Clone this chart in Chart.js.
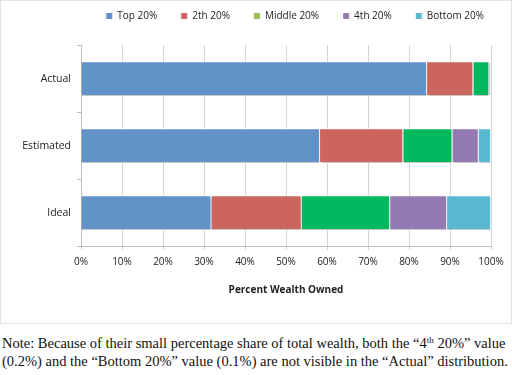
<!DOCTYPE html>
<html>
<head>
<meta charset="utf-8">
<script src="https://cdn.jsdelivr.net/npm/chart.js@4"></script>
<style>
	body { margin: 0; background: #fff; }
	#box { width: 510px; height: 322px; border: 1px solid #e2e2e2; position: relative; }
	#note { font-family: "Liberation Serif", "Times New Roman", serif; font-size: 14.5px; line-height: 18px; color: #111; margin: 10px 0 0 2px; white-space: nowrap; }
	#note sup { font-size: 9px; line-height: 0; vertical-align: 0; position: relative; top: -0.55em; }
</style>
</head>
<body>
<div id="box"><canvas id="bar" width="510" height="322"></canvas></div>
<div id="note">Note: Because of their small percentage share of total wealth, both the “4<sup>th</sup> 20%” value<br>(0.2%) and the “Bottom 20%” value (0.1%) are not visible in the “Actual” distribution.</div>
<script>
const categories = ["Actual", "Estimated", "Ideal"];
const seriesNames = ["Top 20%", "2th 20%", "Middle 20%", "4th 20%", "Bottom 20%"];
const top20 = [84.4, 58.3, 31.8];
const second20 = [11.3, 20.3, 22.0];
const middle20 = [3.9, 12.0, 21.6];
const fourth20 = [0.2, 6.4, 13.9];
const bottom20 = [0.1, 3.0, 10.7];
const xTicks = [0, 10, 20, 30, 40, 50, 60, 70, 80, 90, 100];

const colors = ["#6192c8", "#cc655d", "#00b85e", "#9479b3", "#5bb8d3"];
const legendColors = ["#6192c8", "#cc655d", "#9bbb59", "#9479b3", "#5bb8d3"];
const values = [top20, second20, middle20, fourth20, bottom20];

Chart.defaults.font.family = "'Open Sans', sans-serif";
Chart.defaults.color = "#222";

// soft grey shadow under the bars, like the office chart
const barShadow = {
	id: "barShadow",
	beforeDatasetsDraw(chart) {
		const c = chart.ctx;
		c.save();
		c.shadowColor = "rgba(0,0,0,0.22)";
		c.shadowOffsetY = 2;
		c.shadowBlur = 1;
	},
	afterDatasetsDraw(chart) {
		chart.ctx.restore();
	},
};

const ctx2 = document.getElementById("bar").getContext("2d");
const bar = new Chart(ctx2, {
	type: "bar",
	data: {
		labels: categories,
		datasets: seriesNames.map((name, i) => ({
			label: name,
			data: values[i],
			backgroundColor: colors[i],
			borderColor: "rgba(255,255,255,0.8)",
			borderWidth: 1,
			barPercentage: 0.52,
			categoryPercentage: 1,
		})),
	},
	options: {
		indexAxis: "y",
		responsive: false,
		animation: false,
		layout: { padding: { top: -14, right: 3, bottom: 23, left: 0 } },
		plugins: {
			tooltip: { enabled: false },
			// empty spacer between legend and plot
			subtitle: { display: true, text: " ", weight: 500, font: { size: 1 }, padding: { top: 0, bottom: 13 } },
			legend: {
				position: "top",
				align: "end",
				labels: {
					boxWidth: 6,
					boxHeight: 6,
					padding: 24,
					font: { size: 10 },
					generateLabels: (chart) => {
						const items = Chart.defaults.plugins.legend.labels.generateLabels(chart);
						items.forEach((it, i) => {
							it.fillStyle = legendColors[i];
							it.strokeStyle = legendColors[i];
							it.lineWidth = 0;
						});
						return items;
					},
				},
			},
		},
		scales: {
			x: {
				stacked: true,
				min: 0,
				max: 100,
				afterBuildTicks: (s) => { s.ticks = xTicks.map((v) => ({ value: v })); },
				ticks: { callback: (v) => v + "%", font: { size: 10 }, padding: 6, maxRotation: 0 },
				grid: { color: "#d4d4d4", tickLength: 4 },
				border: { color: "#bdbdbd" },
				title: { display: true, text: "Percent Wealth Owned", font: { size: 10, weight: "bold" }, padding: { top: 10 } },
			},
			y: {
				stacked: true,
				afterFit: (s) => { s.width = 80; },
				ticks: { font: { size: 10.5 }, padding: 6 },
				grid: { drawOnChartArea: false, tickLength: 4, color: "#bdbdbd" },
				border: { color: "#bdbdbd" },
			},
			// blank right margin so the legend can run past the plot edge
			y2: {
				position: "right",
				afterFit: (s) => { s.width = 17; },
				ticks: { display: false },
				grid: { display: false },
				border: { display: false },
			},
		},
	},
	plugins: [barShadow],
});
</script>
</body>
</html>
